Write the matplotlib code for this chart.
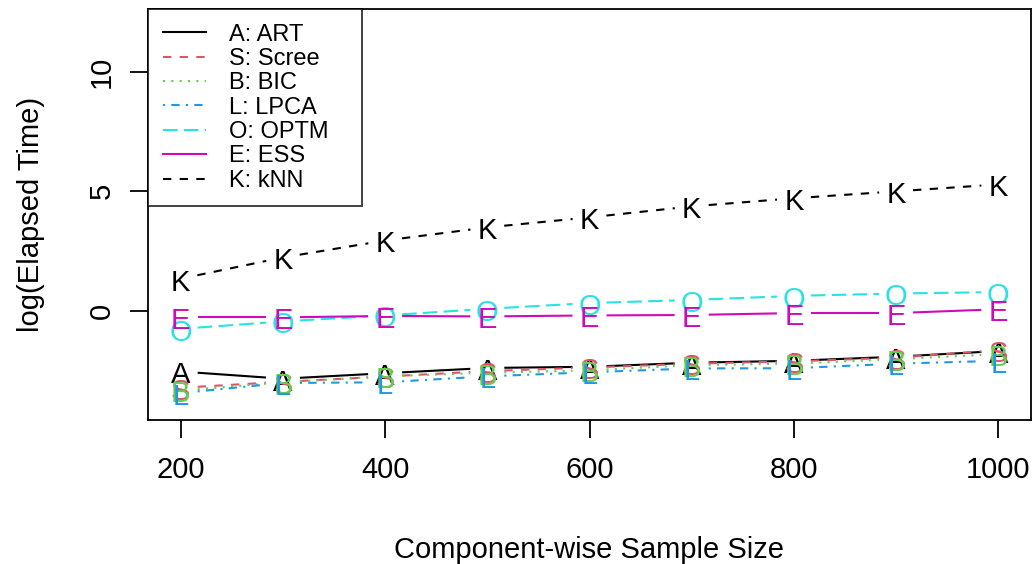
import matplotlib
matplotlib.use("Agg")
import matplotlib.pyplot as plt
import numpy as np
from matplotlib.lines import Line2D

plt.rcParams["font.family"] = ["Liberation Sans", "DejaVu Sans"]

# sample sizes and log elapsed times, one list per method
sample_size = [200, 300, 400, 500, 600, 700, 800, 900, 1000]
art = [-2.55, -2.85, -2.62, -2.40, -2.35, -2.18, -2.10, -1.93, -1.69]
scree = [-3.23, -2.98, -2.76, -2.53, -2.38, -2.22, -2.12, -1.97, -1.65]
bic = [-3.35, -3.00, -2.75, -2.60, -2.50, -2.28, -2.22, -2.03, -1.82]
lpca = [-3.45, -3.03, -3.00, -2.75, -2.58, -2.42, -2.41, -2.22, -2.10]
optm = [-0.76, -0.45, -0.20, 0.08, 0.32, 0.45, 0.62, 0.72, 0.78]
ess = [-0.28, -0.28, -0.22, -0.24, -0.20, -0.18, -0.10, -0.10, 0.06]
knn = [1.34, 2.23, 2.94, 3.49, 3.91, 4.37, 4.71, 5.00, 5.29]

symbols = ["A", "S", "B", "L", "O", "E", "K"]
labels = ["A: ART", "S: Scree", "B: BIC", "L: LPCA", "O: OPTM", "E: ESS", "K: kNN"]
series = [art, scree, bic, lpca, optm, ess, knn]

# R default palette, lty 1..5 then 1, 2
colors = ["#000000", "#DF536B", "#61D04F", "#2297E6", "#28E2E5", "#CD0BBC", "#000000"]
dashes = [None, (4, 4), (1, 3), (1, 3, 4, 3), (7, 3), None, (4, 4)]

LW = 1.5
GAP_PX = 17
TEXT_PT = 21

W, H = 1034, 564
fig = plt.figure(figsize=(W / 100, H / 100), dpi=100)
left, right, top, bottom = 148, 1031, 9, 420
ax = fig.add_axes([left / W, (H - bottom) / H, (right - left) / W, (bottom - top) / H])
ax.set_xlim(168, 1032)
ax.set_ylim(-4.58, 12.64)


def gapped_segments(xs, ys):
    # type="b" style: shorten each segment so it stops short of the symbols
    pts = ax.transData.transform(np.column_stack([xs, ys]))
    inv = ax.transData.inverted()
    segs = []
    for p0, p1 in zip(pts[:-1], pts[1:]):
        d = p1 - p0
        n = np.hypot(*d)
        if n <= 2 * GAP_PX:
            continue
        u = d / n
        segs.append(inv.transform(np.array([p0 + u * GAP_PX, p1 - u * GAP_PX])))
    return segs


handles = []
for sym, lab, ys, col, dsh in zip(symbols, labels, series, colors, dashes):
    ls = "-" if dsh is None else (0, dsh)
    for seg in gapped_segments(sample_size, ys):
        ax.plot(seg[:, 0], seg[:, 1], color=col, linewidth=LW, linestyle=ls,
                solid_capstyle="butt", dash_capstyle="butt")
    for xv, yv in zip(sample_size, ys):
        ax.annotate(sym, (xv, yv), xytext=(0, -8.5), textcoords="offset points",
                    ha="center", va="baseline", color=col, fontsize=TEXT_PT)
    handles.append(Line2D([], [], color=col, linewidth=LW, linestyle=ls))

ax.set_xticks([200, 400, 600, 800, 1000])
ax.set_yticks([0, 5, 10])
ax.tick_params(axis="both", direction="out", length=13, width=1.3,
               labelsize=TEXT_PT, color="black")
ax.tick_params(axis="x", pad=13)
ax.tick_params(axis="y", pad=10)
for lbl in ax.get_yticklabels():
    lbl.set_rotation(90)
    lbl.set_va("center")
for sp in ax.spines.values():
    sp.set_linewidth(1.3)
    sp.set_color("black")

ax.set_xlabel("Component-wise Sample Size", fontsize=TEXT_PT)
ax.xaxis.set_label_coords(0.5, -(550 - bottom) / (bottom - top))
ax.xaxis.label.set_va("center")
ax.set_ylabel("log(Elapsed Time)", fontsize=TEXT_PT)
ax.yaxis.set_label_coords(-(left - 31) / (right - left), 0.5)
ax.yaxis.label.set_va("center")

leg = ax.legend(handles, labels, loc="upper left",
                bbox_to_anchor=(0, 0, (362 - left) / (right - left), 1),
                mode="expand", borderaxespad=0, fontsize=17, frameon=True,
                fancybox=False, edgecolor="black", handlelength=1.85,
                handletextpad=0.95, labelspacing=0.1, borderpad=0.62)
leg.get_frame().set_linewidth(1.3)

fig.savefig("out.png", dpi=100)
